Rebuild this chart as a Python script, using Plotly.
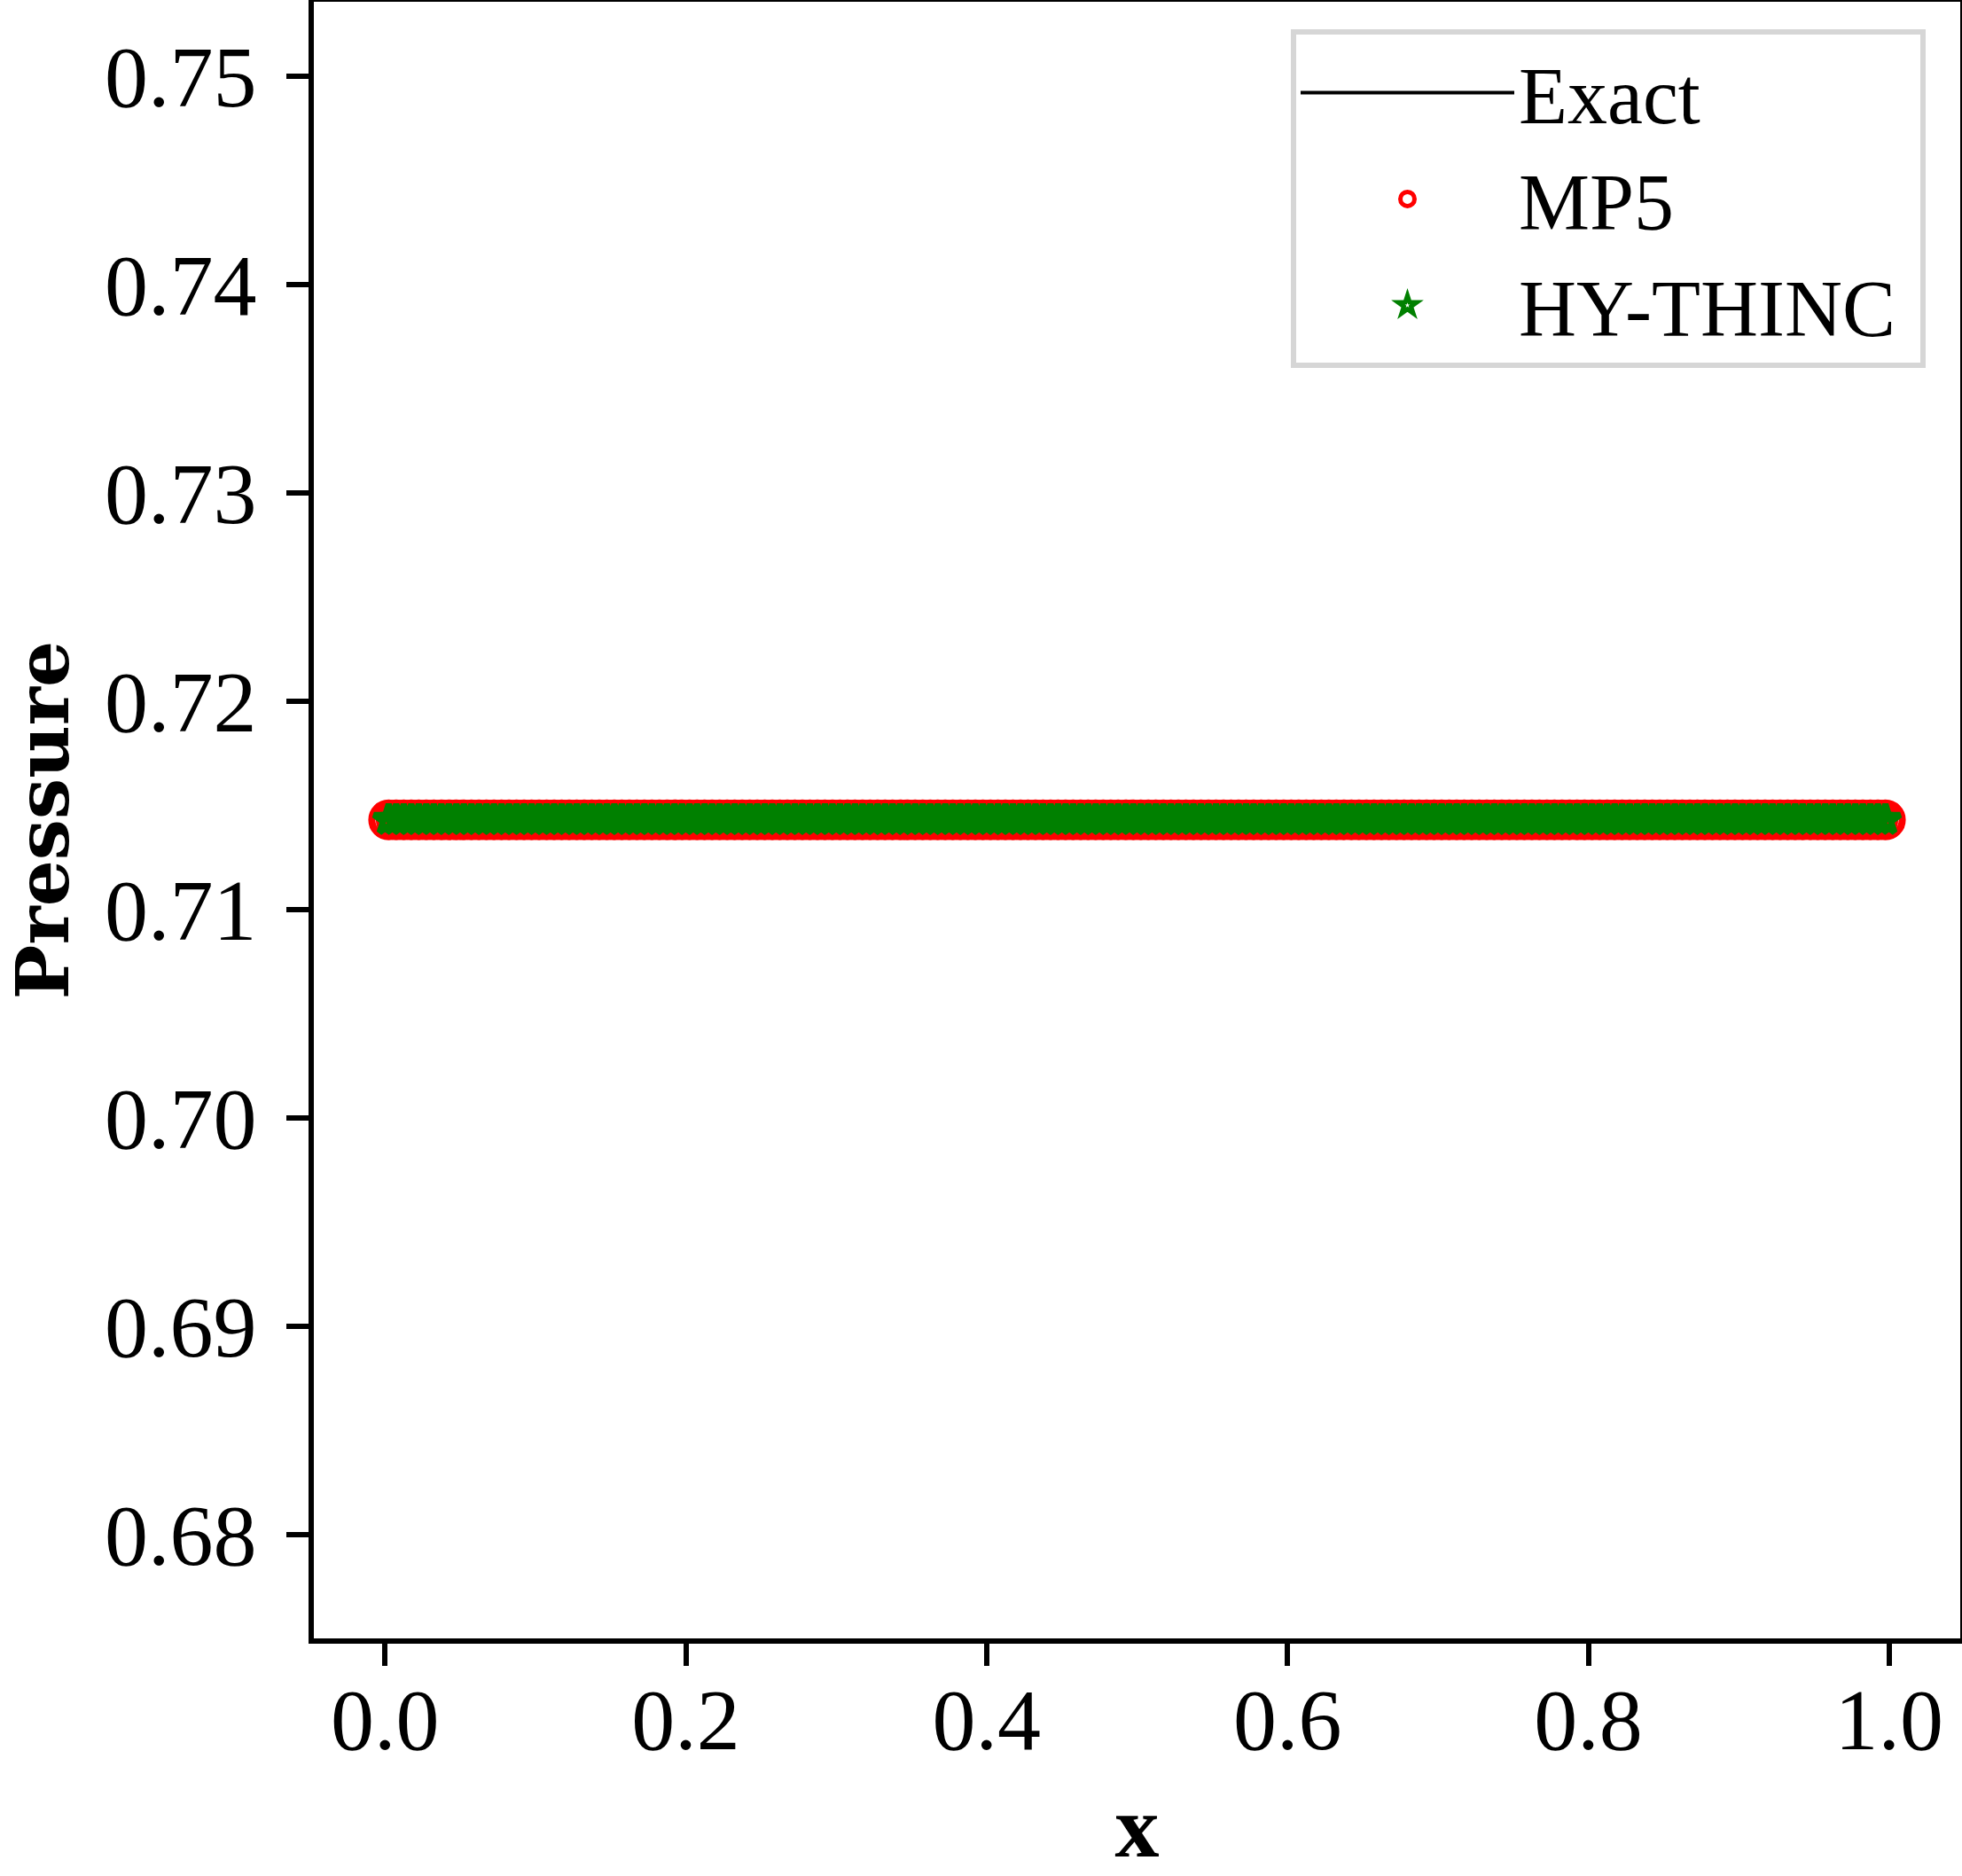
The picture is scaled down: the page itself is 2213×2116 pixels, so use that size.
import numpy as np
import plotly.graph_objects as go

# 200 cell centres on [0, 1]
n_cells = 200
x_cells = (np.arange(n_cells) + 0.5) / n_cells

p_exact = [0.7143] * n_cells
p_mp5 = [0.7143] * n_cells
p_hythinc = [0.7143] * n_cells

x_ticks = [0.0, 0.2, 0.4, 0.6, 0.8, 1.0]
y_ticks = [0.68, 0.69, 0.70, 0.71, 0.72, 0.73, 0.74, 0.75]

serif = "Liberation Serif"
pad = "\u00a0"  # keeps some room on the right of legend labels

fig = go.Figure()

fig.add_trace(go.Scatter(
    x=x_cells, y=p_exact, mode="lines", name="Exact" + pad,
    line=dict(color="black", width=4),
))
fig.add_trace(go.Scatter(
    x=x_cells, y=p_mp5, mode="markers", name="MP5" + pad,
    marker=dict(symbol="circle-open", size=38, color="red",
                line=dict(color="red", width=8)),
))
fig.add_trace(go.Scatter(
    x=x_cells, y=p_hythinc, mode="markers", name="HY-THINC" + pad,
    marker=dict(symbol="star-open", size=25, color="green",
                line=dict(color="green", width=7)),
))

axis_common = dict(
    showline=True, linecolor="black", linewidth=6, mirror=True,
    ticks="outside", ticklen=25, tickwidth=6, tickcolor="black",
    showgrid=False, zeroline=False, automargin=False,
    tickfont=dict(family=serif, size=98, color="black"),
)

fig.update_xaxes(
    range=[-0.04725, 1.04725], tickvals=x_ticks,
    ticktext=[f"{v:.1f}" for v in x_ticks],
    title=dict(text="<b>x</b>", font=dict(family=serif, size=100, color="black"),
               standoff=63),
    ticklabelstandoff=-24,
    **axis_common,
)
fig.update_yaxes(
    range=[0.675, 0.753571], tickvals=y_ticks,
    ticktext=[f"{v:.2f}" for v in y_ticks],
    title=dict(text="<b>Pressure</b>",
               font=dict(family="DejaVu Serif", size=82, color="black"),
               standoff=81),
    ticklabelstandoff=14,
    **axis_common,
)

fig.update_layout(
    width=2213, height=2116,
    margin=dict(l=354, r=2, t=2, b=268),
    paper_bgcolor="white", plot_bgcolor="white",
    showlegend=True,
    legend=dict(
        x=0.979, y=0.983, xanchor="right", yanchor="top",
        bgcolor="white", bordercolor="#d6d6d6", borderwidth=6,
        font=dict(family=serif, size=90, color="black"),
        itemwidth=241,
    ),
)

fig.write_html("out.html", config={"displayModeBar": False},
               post_script="document.body.style.margin='0px';")
